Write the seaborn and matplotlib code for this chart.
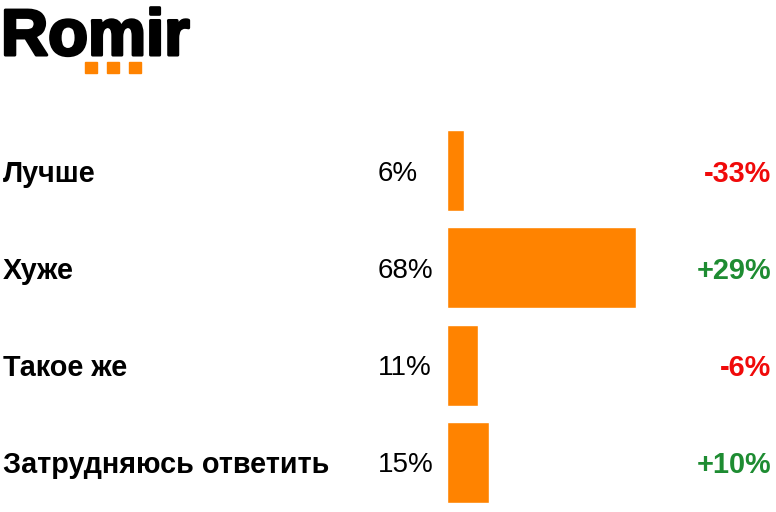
import matplotlib
matplotlib.use("Agg")
import matplotlib.pyplot as plt
import matplotlib.transforms as mtrans
import matplotlib.patheffects as pe
from matplotlib.patches import Rectangle
import seaborn as sns
import pandas as pd

categories = ["Лучше", "Хуже", "Такое же", "Затрудняюсь ответить"]
values = [6, 68, 11, 15]
value_labels = ["6%", "68%", "11%", "15%"]
changes = [-33, 29, -6, 10]
change_labels = ["-33%", "+29%", "-6%", "+10%"]

sns.set_theme(style="white")
plt.rcParams['font.family'] = ['Liberation Sans', 'DejaVu Sans']

ORANGE = "#FF8300"
RED = "#F00A0A"
GREEN = "#1E8C32"

fig = plt.figure(figsize=(7.76, 5.12), dpi=100)
W, H = 776, 512
ax = fig.add_axes([447 / W, 1 - 511 / H, 278 / W, 389 / H])

df = pd.DataFrame({"cat": categories, "val": values})
sns.barplot(data=df, x="val", y="cat", orient="h", color=ORANGE,
            saturation=1, width=0.835, ax=ax)
ax.set_xlim(0, 100)
ax.set_ylim(3.5, -0.5)
ax.axis("off")

tr = mtrans.blended_transform_factory(fig.transFigure, ax.transData)
for i, (c, vl, ch, cl) in enumerate(zip(categories, value_labels, changes, change_labels)):
    ax.text(3 / W, i, c, transform=tr, ha="left", va="center_baseline",
            fontsize=20.7, fontweight="bold", color="black")
    ax.text(378 / W, i, vl, transform=tr, ha="left", va="center_baseline",
            fontsize=20, color="black")
    ax.text(771 / W, i, cl, transform=tr, ha="right", va="center_baseline",
            fontsize=20.8, fontweight="bold", color=GREEN if ch > 0 else RED)

# Logo
fig.text(1 / W, 1 - 55 / H, "Romir", ha="left", va="baseline",
         fontsize=47, fontweight="bold", color="black",
         path_effects=[pe.withStroke(linewidth=2.2, foreground="black")])
for x0 in (85, 107, 129):
    fig.patches.append(Rectangle((x0 / W, 1 - 73 / H), 12 / W, 11 / H,
                                 transform=fig.transFigure, color=ORANGE))

fig.savefig("out.png", dpi=100)
